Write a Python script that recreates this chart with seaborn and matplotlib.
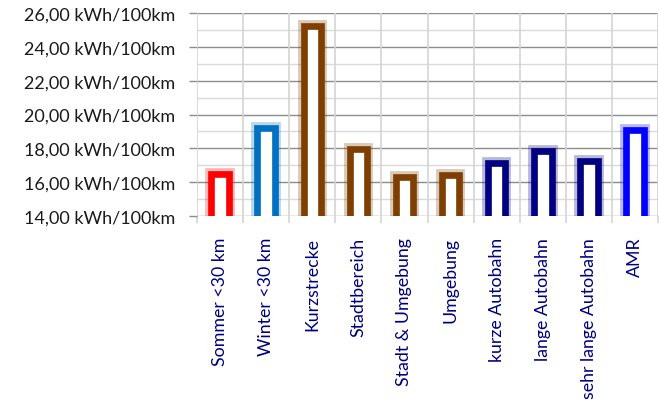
import matplotlib
matplotlib.use("Agg")
import matplotlib.pyplot as plt
import matplotlib.patheffects as pe
from matplotlib.ticker import MultipleLocator, FuncFormatter
import seaborn as sns
import pandas as pd

categories = ["Sommer <30 km", "Winter <30 km", "Kurzstrecke", "Stadtbereich",
              "Stadt & Umgebung", "Umgebung", "kurze Autobahn", "lange Autobahn",
              "sehr lange Autobahn", "AMR"]
values = [16.48, 19.18, 25.24, 17.96, 16.28, 16.42, 17.13, 17.87, 17.27, 19.10]
colors = ["#FF0000", "#0070C0", "#7F3F00", "#7F3F00", "#7F3F00", "#7F3F00",
          "#000080", "#000080", "#000080", "#0000FF"]

sns.set_theme(style="white")
plt.rcParams["font.family"] = ["Lato", "DejaVu Sans"]

df = pd.DataFrame({"cat": categories, "val": values})

fig = plt.figure(figsize=(6.59, 4.06), dpi=100)
ax = fig.add_axes([0.299, 0.4655, 0.6995, 0.5])

sns.barplot(data=df, x="cat", y="val", hue="cat", palette=colors, legend=False,
            width=0.38, ax=ax)

for patch, c in zip(ax.patches, colors):
    patch.set_facecolor("white")
    patch.set_edgecolor(c)
    patch.set_linewidth(4.8)
    patch.set_path_effects([pe.withStroke(linewidth=8.5, foreground=c, alpha=0.28)])
    patch.set_zorder(3)

ax.set_ylim(14, 26)
ax.set_xlim(-0.5, len(categories) - 0.5)
ax.yaxis.set_major_locator(MultipleLocator(2))
ax.yaxis.set_minor_locator(MultipleLocator(1))
ax.yaxis.set_major_formatter(FuncFormatter(lambda v, p: f"{v:.2f}".replace(".", ",") + " kWh/100km"))

ax.grid(False)
for y in range(14, 27):
    if y % 2 == 0:
        ax.axhline(y, color="#8c8c8c", lw=1.0, zorder=1)
    else:
        ax.axhline(y, color="#dadada", lw=1.0, zorder=1)
for i in range(len(categories) + 1):
    ax.axvline(i - 0.5, color="#d4d4d4", lw=1.2, zorder=1)

for s in ax.spines.values():
    s.set_visible(False)

ax.tick_params(axis="y", which="major", left=True, length=6, width=1, color="#8c8c8c",
               labelsize=13, labelcolor="#1a1a1a", pad=10)
ax.tick_params(axis="y", which="minor", left=False)
ax.set_xticks([i - 0.5 for i in range(len(categories) + 1)], minor=True)
ax.tick_params(axis="x", which="minor", bottom=True, length=5, width=1.2, color="#d4d4d4")
ax.tick_params(axis="x", which="major", bottom=False, labelsize=12.8,
               labelcolor="#000080", pad=9)
ax.set_xticks(range(len(categories)))
ax.set_xticklabels(categories, rotation=90, va="top", ha="center")
ax.set_xlabel("")
ax.set_ylabel("")

fig.savefig("out.png", dpi=100)
